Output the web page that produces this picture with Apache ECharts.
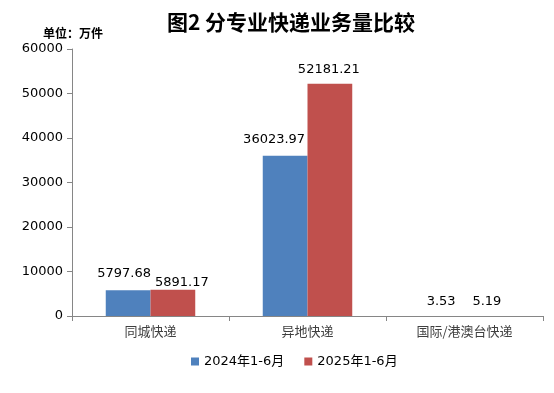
<!DOCTYPE html>
<html><head><meta charset="utf-8">
<script src="https://cdn.jsdelivr.net/npm/echarts@6/dist/echarts.min.js"></script>
<style>html,body{margin:0;padding:0;background:#fff}#c{width:554px;height:393px}</style>
</head><body><div id="c"></div>
<script>
const categories = ['同城快递', '异地快递', '国际/港澳台快递'];
const series2024 = [5797.68, 36023.97, 3.53];
const series2025 = [5891.17, 52181.21, 5.19];
const seriesNames = ['2024年1-6月', '2025年1-6月'];
const yTicks = [0, 10000, 20000, 30000, 40000, 50000, 60000];
// label nudges (pixels) to mimic the reference's de-overlapped labels
const offsets2024 = [[-4, -2], [-11, -2], [-1, 0]];
const offsets2025 = [[9, 7], [-1, 0], [0, 0]];

const font = '"DejaVu Sans", "Noto Sans CJK SC", sans-serif';
const mk = (vals, offs) => vals.map((v, i) => ({ value: v, label: { offset: offs[i] } }));
const chart = echarts.init(document.getElementById('c'));
const lbl = { show: true, position: 'top', fontSize: 13, color: '#000', distance: 8, fontFamily: font };
chart.setOption({
  animation: false,
  textStyle: { fontFamily: font },
  title: [
    { text: '图2 分专业快递业务量比较', left: 286, top: 7, textAlign: 'center',
      textStyle: { fontSize: 21, fontWeight: 'bold', color: '#000', fontFamily: '"Noto Sans CJK SC", sans-serif' } },
    { text: '单位：万件', left: 38, top: 22,
      textStyle: { fontSize: 12, fontWeight: 'bold', color: '#000', fontFamily: '"Noto Sans CJK SC", sans-serif' } }
  ],
  legend: {
    data: seriesNames, left: 186, top: 350, itemWidth: 8, itemHeight: 8, itemGap: 20,
    icon: 'rect', textStyle: { fontSize: 13, color: '#000', fontFamily: font }
  },
  grid: { left: 72, right: 11, top: 49, bottom: 77 },
  xAxis: {
    type: 'category', data: categories,
    axisLine: { lineStyle: { color: '#868686' } },
    axisTick: { show: true, length: 5, lineStyle: { color: '#868686' } },
    axisLabel: { fontSize: 13, color: '#404040', margin: 9, fontFamily: '"Noto Sans CJK SC", sans-serif' }
  },
  yAxis: {
    type: 'value', min: 0, max: 60000, interval: 10000,
    axisLine: { show: true, lineStyle: { color: '#868686' } },
    axisTick: { show: true, length: 5, lineStyle: { color: '#868686' } },
    splitLine: { show: false },
    axisLabel: { fontSize: 13, color: '#000', margin: 9, fontFamily: font,
      formatter: v => yTicks.includes(v) ? String(v) : '' }
  },
  series: [
    { name: seriesNames[0], type: 'bar', data: mk(series2024, offsets2024), barGap: '0%', barCategoryGap: '43%',
      itemStyle: { color: '#4F81BD' }, label: lbl },
    { name: seriesNames[1], type: 'bar', data: mk(series2025, offsets2025), barGap: '0%', barCategoryGap: '43%',
      itemStyle: { color: '#C0504D' }, label: lbl }
  ]
});
</script></body></html>
